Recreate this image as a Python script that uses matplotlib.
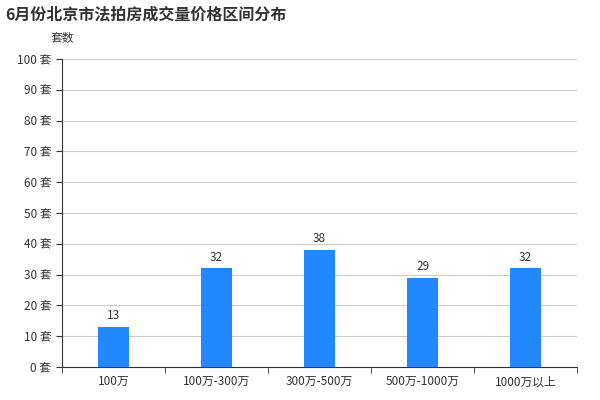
import matplotlib
matplotlib.use('Agg')
import matplotlib.pyplot as plt
import numpy as np

plt.rcParams['font.family'] = ['Noto Sans CJK SC', 'DejaVu Sans']

categories = ['100万', '100万-300万', '300万-500万', '500万-1000万', '1000万以上']
counts = [13, 32, 38, 29, 32]
y_ticks = list(range(0, 101, 10))

fig = plt.figure(figsize=(6, 4), dpi=100)
ax = fig.add_axes([0.103, 0.0825, 0.859, 0.77])

x = np.arange(len(categories))
ax.bar(x, counts, width=0.3, color='#2288ff', zorder=3)
for xi, v in zip(x, counts):
    ax.text(xi, v + 1.5, str(v), ha='center', va='bottom', fontsize=8.5, color='#333333')

ax.set_xlim(-0.5, len(categories) - 0.5)
ax.set_ylim(0, 100)
ax.set_yticks(y_ticks)
ax.set_yticklabels([f'{t} 套' for t in y_ticks], fontsize=8.5, color='#333333')
ax.set_xticks(x)
ax.set_xticklabels(categories, fontsize=8.5, color='#333333')
ax.set_xticks(np.arange(-0.5, len(categories)), minor=True)
ax.tick_params(axis='x', which='major', length=0, pad=6)
ax.tick_params(axis='x', which='minor', length=4, color='#333333')
ax.tick_params(axis='y', length=4, color='#333333')
ax.yaxis.grid(True, color='#cccccc', linewidth=0.8, zorder=0)
for s in ['top', 'right']:
    ax.spines[s].set_visible(False)
ax.spines['left'].set_color('#333333')
ax.spines['bottom'].set_color('#333333')

fig.text(0.008, 0.965, '6月份北京市法拍房成交量价格区间分布', fontsize=11.5,
         fontweight='bold', color='#333333', va='center')
fig.text(0.085, 0.905, '套数', fontsize=8.5, color='#333333', va='center')

fig.savefig('out.png', dpi=100)
